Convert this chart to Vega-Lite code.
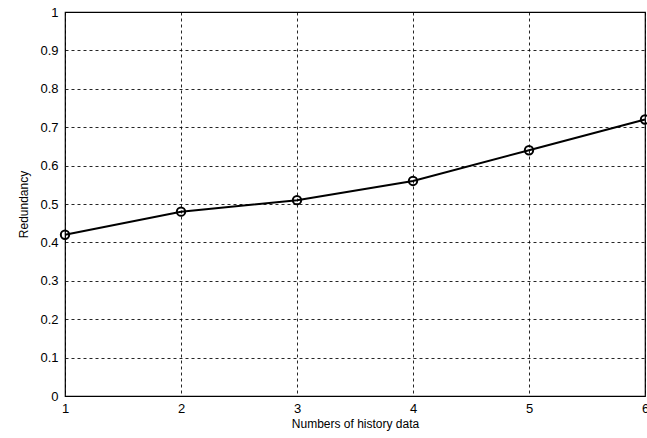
{
  "$schema": "https://vega.github.io/schema/vega-lite/v6.json",
  "width": 580,
  "height": 384,
  "autosize": {"type": "none"},
  "padding": {"left": 65, "top": 12, "right": 2, "bottom": 42},
  "background": "white",
  "config": {
    "view": {"stroke": "black", "strokeWidth": 1.2},
    "font": "Liberation Sans",
    "axis": {
      "domain": false,
      "ticks": false,
      "grid": true,
      "gridColor": "#000000",
      "gridDash": [3, 3],
      "gridWidth": 1,
      "gridOpacity": 0.85,
      "labelFont": "Liberation Sans",
      "labelFontSize": 13,
      "labelColor": "black",
      "titleFont": "Liberation Sans",
      "titleFontSize": 12,
      "titleFontWeight": "normal",
      "titleColor": "black"
    }
  },
  "data": {
    "values": [
      {"n": 1, "r": 0.42},
      {"n": 2, "r": 0.48},
      {"n": 3, "r": 0.51},
      {"n": 4, "r": 0.56},
      {"n": 5, "r": 0.64},
      {"n": 6, "r": 0.72}
    ]
  },
  "encoding": {
    "x": {
      "field": "n",
      "type": "quantitative",
      "scale": {"domain": [1, 6], "nice": false, "zero": false},
      "axis": {"values": [1, 2, 3, 4, 5, 6], "format": "~g", "title": "Numbers of history data", "labelPadding": 6, "titlePadding": 3, "labelFlush": false}
    },
    "y": {
      "field": "r",
      "type": "quantitative",
      "scale": {"domain": [0, 1], "nice": false},
      "axis": {"values": [0, 0.1, 0.2, 0.3, 0.4, 0.5, 0.6, 0.7, 0.8, 0.9, 1], "format": "~g", "title": "Redundancy", "labelPadding": 7, "titlePadding": 9, "labelFlush": false}
    }
  },
  "layer": [
    {"mark": {"type": "line", "color": "black", "strokeWidth": 2}},
    {"mark": {"type": "point", "shape": "circle", "filled": false, "color": "black", "strokeWidth": 2, "size": 70, "opacity": 1}}
  ]
}
